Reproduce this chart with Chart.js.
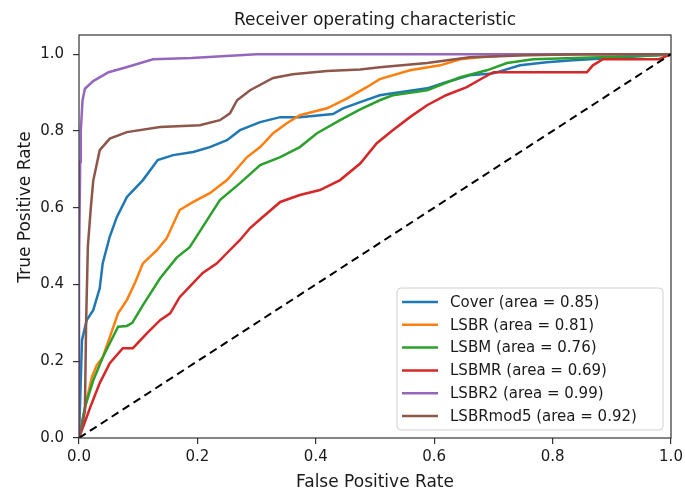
<!DOCTYPE html>
<html>
<head>
<meta charset="utf-8">
<script src="https://cdn.jsdelivr.net/npm/chart.js@4/dist/chart.umd.min.js"></script>
<style>
  html, body { margin: 0; padding: 0; background: #fff; }
  #wrap { width: 685px; height: 492px; }
</style>
</head>
<body>
<div id="wrap"><canvas id="roc"></canvas></div>
<script>
// courbes ROC (taux de faux positifs / vrais positifs)
const coverFpr = [0, 0.003, 0.005, 0.013, 0.024, 0.035, 0.04, 0.052, 0.064, 0.081, 0.108, 0.133, 0.159, 0.193, 0.221, 0.25, 0.272, 0.306, 0.34, 0.373, 0.429, 0.446, 0.475, 0.508, 0.53, 0.588, 0.62, 0.66, 0.70, 0.745, 0.79, 0.834, 0.9, 1];
const coverTpr = [0, 0.15, 0.255, 0.307, 0.333, 0.39, 0.455, 0.525, 0.576, 0.628, 0.672, 0.724, 0.737, 0.745, 0.758, 0.776, 0.802, 0.823, 0.836, 0.836, 0.844, 0.859, 0.875, 0.893, 0.898, 0.911, 0.927, 0.945, 0.95, 0.971, 0.979, 0.984, 0.99, 1];

const lsbrFpr = [0, 0.013, 0.022, 0.03, 0.04, 0.052, 0.066, 0.081, 0.095, 0.108, 0.132, 0.148, 0.17, 0.193, 0.221, 0.25, 0.284, 0.306, 0.328, 0.351, 0.373, 0.419, 0.453, 0.486, 0.508, 0.559, 0.61, 0.644, 0.677, 0.75, 1];
const lsbrTpr = [0, 0.1, 0.16, 0.19, 0.21, 0.263, 0.325, 0.36, 0.406, 0.455, 0.49, 0.52, 0.594, 0.615, 0.638, 0.672, 0.732, 0.758, 0.794, 0.82, 0.841, 0.859, 0.885, 0.914, 0.935, 0.958, 0.971, 0.987, 0.992, 1, 1];

const lsbmFpr = [0, 0.01, 0.024, 0.04, 0.052, 0.066, 0.081, 0.09, 0.108, 0.137, 0.165, 0.187, 0.209, 0.238, 0.272, 0.306, 0.34, 0.373, 0.402, 0.441, 0.475, 0.508, 0.53, 0.588, 0.644, 0.689, 0.723, 0.767, 0.88, 0.98, 1];
const lsbmTpr = [0, 0.08, 0.15, 0.21, 0.247, 0.29, 0.292, 0.3, 0.346, 0.416, 0.47, 0.497, 0.55, 0.62, 0.664, 0.711, 0.732, 0.758, 0.794, 0.828, 0.856, 0.88, 0.893, 0.906, 0.94, 0.958, 0.977, 0.987, 0.992, 0.997, 1];

const lsbmrFpr = [0, 0.019, 0.035, 0.052, 0.074, 0.091, 0.115, 0.137, 0.154, 0.17, 0.193, 0.209, 0.233, 0.25, 0.272, 0.289, 0.306, 0.34, 0.373, 0.407, 0.441, 0.475, 0.503, 0.53, 0.559, 0.588, 0.62, 0.655, 0.682, 0.70, 0.858, 0.868, 0.885, 0.98, 1];
const lsbmrTpr = [0, 0.08, 0.143, 0.195, 0.234, 0.234, 0.273, 0.307, 0.325, 0.367, 0.404, 0.43, 0.455, 0.482, 0.516, 0.547, 0.57, 0.615, 0.633, 0.646, 0.672, 0.715, 0.768, 0.802, 0.836, 0.867, 0.893, 0.914, 0.938, 0.953, 0.953, 0.971, 0.987, 0.987, 1];

const lsbr2Fpr = [0, 0, 0.002, 0.003, 0.006, 0.01, 0.024, 0.05, 0.08, 0.125, 0.19, 0.3, 1];
const lsbr2Tpr = [0, 0.45, 0.72, 0.8, 0.88, 0.91, 0.93, 0.953, 0.966, 0.987, 0.99, 1, 1];

const lsbrmod5Fpr = [0, 0.005, 0.01, 0.012, 0.015, 0.02, 0.024, 0.035, 0.052, 0.081, 0.137, 0.204, 0.238, 0.255, 0.267, 0.289, 0.328, 0.361, 0.419, 0.475, 0.508, 0.588, 0.66, 0.757, 0.85, 1];
const lsbrmod5Tpr = [0, 0.03, 0.07, 0.3, 0.5, 0.6, 0.67, 0.75, 0.78, 0.797, 0.81, 0.815, 0.828, 0.846, 0.88, 0.906, 0.938, 0.948, 0.956, 0.96, 0.966, 0.977, 0.992, 0.997, 1, 1];

const seriesLabels = ['Cover (area = 0.85)', 'LSBR (area = 0.81)', 'LSBM (area = 0.76)', 'LSBMR (area = 0.69)', 'LSBR2 (area = 0.99)', 'LSBRmod5 (area = 0.92)'];
const seriesColors = ['#1f77b4', '#ff7f0e', '#2ca02c', '#d62728', '#9467bd', '#8c564b'];
const chanceX = [0, 1];
const chanceY = [0, 1];
const tickValues = [0, 0.2, 0.4, 0.6, 0.8, 1.0];

function pts(xs, ys) {
  return xs.map((x, i) => ({x: x, y: ys[i]}));
}

const series = [[coverFpr, coverTpr], [lsbrFpr, lsbrTpr], [lsbmFpr, lsbmTpr], [lsbmrFpr, lsbmrTpr], [lsbr2Fpr, lsbr2Tpr], [lsbrmod5Fpr, lsbrmod5Tpr]];

const datasets = series.map((s, i) => ({
  label: seriesLabels[i],
  data: pts(s[0], s[1]),
  borderColor: seriesColors[i],
  borderWidth: 2.5,
  pointRadius: 0,
  tension: 0,
  fill: false,
  order: 10 - i
}));
datasets.push({
  label: '_chance',
  data: pts(chanceX, chanceY),
  borderColor: '#000',
  borderWidth: 2,
  borderDash: [8, 5],
  pointRadius: 0,
  fill: false,
  order: 0
});

const FONT = 'DejaVu Sans';

// cadre, titres d'axes et légende façon matplotlib
const decor = {
  id: 'decor',
  afterDatasetsDraw(chart) {
    const ctx = chart.ctx;
    const a = chart.chartArea;
    ctx.save();
    ctx.strokeStyle = '#333';
    ctx.lineWidth = 1.2;
    ctx.strokeRect(a.left, a.top, a.right - a.left, a.bottom - a.top);

    // titres des axes
    ctx.fillStyle = '#1a1a1a';
    ctx.font = '17px "' + FONT + '"';
    ctx.textAlign = 'center';
    ctx.textBaseline = 'middle';
    ctx.fillText('False Positive Rate', (a.left + a.right) / 2, 483);
    ctx.translate(26, 207);
    ctx.rotate(-Math.PI / 2);
    ctx.fillText('True Positive Rate', 0, 0);
    ctx.restore();

    // légende
    ctx.save();
    const bx = 397, by = 288, bw = 266, bh = 142, r = 4;
    ctx.beginPath();
    ctx.moveTo(bx + r, by);
    ctx.arcTo(bx + bw, by, bx + bw, by + bh, r);
    ctx.arcTo(bx + bw, by + bh, bx, by + bh, r);
    ctx.arcTo(bx, by + bh, bx, by, r);
    ctx.arcTo(bx, by, bx + bw, by, r);
    ctx.closePath();
    ctx.fillStyle = 'rgba(255,255,255,0.85)';
    ctx.fill();
    ctx.strokeStyle = '#d0d0d0';
    ctx.lineWidth = 1;
    ctx.stroke();
    ctx.font = '15px "' + FONT + '"';
    ctx.textAlign = 'left';
    ctx.textBaseline = 'middle';
    chart.data.datasets.forEach((ds, i) => {
      if (ds.label.startsWith('_')) return;
      const y = 302 + i * 22.8;
      ctx.strokeStyle = ds.borderColor;
      ctx.lineWidth = 2.5;
      ctx.beginPath();
      ctx.moveTo(402, y);
      ctx.lineTo(438, y);
      ctx.stroke();
      ctx.fillStyle = '#1a1a1a';
      ctx.fillText(ds.label, 450, y + 1);
    });
    ctx.restore();
  }
};

new Chart(document.getElementById('roc'), {
  type: 'line',
  data: { datasets: datasets },
  plugins: [decor],
  options: {
    responsive: true,
    maintainAspectRatio: false,
    animation: false,
    layout: { padding: { left: 0, right: 14, top: 0, bottom: 0 } },
    plugins: {
      legend: { display: false },
      tooltip: { enabled: false },
      title: {
        display: true,
        text: 'Receiver operating characteristic',
        fullSize: false,
        color: '#1a1a1a',
        font: { family: FONT, size: 17, weight: 'normal' },
        padding: { top: 10, bottom: 4.6 }
      }
    },
    scales: {
      x: {
        type: 'linear',
        min: 0,
        max: 1,
        afterFit: s => { s.height = 54; s.paddingLeft = 0; s.paddingRight = 0; },
        afterBuildTicks: s => { s.ticks = tickValues.map(v => ({value: v})); },
        grid: { display: true, drawOnChartArea: false, drawTicks: true, tickLength: 6, color: '#333', lineWidth: 1.2 },
        border: { display: false },
        ticks: {
          padding: 4,
          color: '#1a1a1a',
          maxRotation: 0,
          font: { family: FONT, size: 15 },
          callback: v => Number(v).toFixed(1)
        }
      },
      y: {
        type: 'linear',
        min: 0,
        max: 1.05,
        afterFit: s => { s.width = 79; },
        afterBuildTicks: s => { s.ticks = tickValues.map(v => ({value: v})); },
        grid: { display: true, drawOnChartArea: false, drawTicks: true, tickLength: 6, color: '#333', lineWidth: 1.2 },
        border: { display: false },
        ticks: {
          padding: 9,
          color: '#1a1a1a',
          font: { family: FONT, size: 15 },
          callback: v => Number(v).toFixed(1)
        }
      }
    }
  }
});
</script>
</body>
</html>
